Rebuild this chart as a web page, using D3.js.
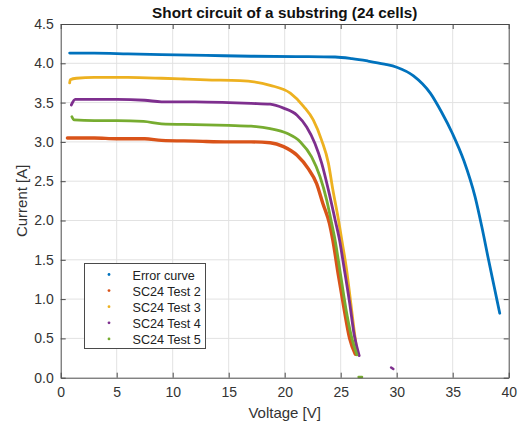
<!DOCTYPE html>
<html>
<head>
<meta charset="utf-8">
<script src="https://cdn.jsdelivr.net/npm/d3@7"></script>
<style>
  body { margin: 0; background: #fff; }
  text { font-family: "Liberation Sans", Arial, sans-serif; }
</style>
</head>
<body>
<svg id="chart" width="518" height="425"></svg>
<script>
// values
let seriesNames = ["Error curve", "SC24 Test 2", "SC24 Test 3", "SC24 Test 4", "SC24 Test 5"];

let errV = [0.8, 3, 6, 9, 13, 17, 21, 24.5, 26, 27.4, 28.9, 30, 31.5, 33, 34, 35, 36, 37, 37.6, 38.2, 38.7, 39.2];
let errI = [4.13, 4.13, 4.12, 4.11, 4.10, 4.09, 4.085, 4.08, 4.06, 4.03, 3.99, 3.95, 3.84, 3.62, 3.38, 3.10, 2.76, 2.30, 1.92, 1.50, 1.16, 0.82];

let test2V = [0.6, 1, 3, 5, 7.5, 9, 12, 15, 17, 18.7, 19.9, 21.1, 22.1, 22.85, 23.4, 24.0, 24.3, 24.8, 25.3, 25.8, 26.3];
let test2I = [3.05, 3.05, 3.05, 3.04, 3.04, 3.02, 3.01, 3.0, 3.0, 2.99, 2.94, 2.83, 2.66, 2.47, 2.22, 1.96, 1.75, 1.3, 0.88, 0.5, 0.3];

let test3V = [0.8, 0.85, 1.4, 3, 6, 9, 11, 13, 16, 18.7, 20.5, 21.7, 22.55, 23.3, 23.9, 24.3, 24.8, 25.1, 25.5, 25.9, 26.2, 26.5];
let test3I = [3.75, 3.79, 3.81, 3.82, 3.82, 3.81, 3.80, 3.79, 3.78, 3.72, 3.62, 3.45, 3.28, 3.02, 2.73, 2.39, 2.01, 1.75, 1.4, 0.95, 0.6, 0.3];

let test4V = [0.95, 1.3, 3, 5, 7.5, 9, 12, 15, 17, 18.7, 19.9, 21.1, 21.96, 22.7, 23.3, 23.9, 24.5, 24.9, 25.3, 25.8, 26.2, 26.65];
let test4I = [3.47, 3.54, 3.54, 3.54, 3.53, 3.51, 3.51, 3.50, 3.49, 3.48, 3.43, 3.34, 3.19, 2.98, 2.73, 2.39, 2.01, 1.75, 1.4, 0.95, 0.55, 0.28];
let test4StrayV = [29.5, 29.7];
let test4StrayI = [0.13, 0.11];

let test5V = [1.0, 1.2, 3, 5, 7.4, 9, 12, 15, 17, 18.7, 20.2, 21.4, 22.4, 23.15, 23.75, 24.2, 24.5, 25.0, 25.5, 26.0, 26.45];
let test5I = [3.32, 3.28, 3.27, 3.27, 3.26, 3.23, 3.22, 3.21, 3.2, 3.17, 3.11, 3.0, 2.81, 2.56, 2.26, 1.96, 1.75, 1.3, 0.85, 0.5, 0.29];
let test5StrayV = [26.6, 26.9];
let test5StrayI = [0.01, 0.01];

let xTicks = [0, 5, 10, 15, 20, 25, 30, 35, 40];
let yTicks = [0, 0.5, 1, 1.5, 2, 2.5, 3, 3.5, 4, 4.5];

let colors = ["#0072BD", "#D95319", "#EDB120", "#7E2F8E", "#77AC30"];
let axisColor = "#4a4a4a";
let textColor = "#333333";

function zip(vs, is) { return vs.map((v, i) => [v, is[i]]); }

let curves = [
  { main: zip(errV, errI), stray: [] },
  { main: zip(test2V, test2I), stray: [] },
  { main: zip(test3V, test3I), stray: [] },
  { main: zip(test4V, test4I), stray: zip(test4StrayV, test4StrayI) },
  { main: zip(test5V, test5I), stray: zip(test5StrayV, test5StrayI) }
];

let svg = d3.select("#chart");
let plotLeft = 60.7, plotRight = 508.7, plotTop = 24, plotBottom = 377.7;

let x = d3.scaleLinear().domain([0, 40]).range([plotLeft, plotRight]);
let y = d3.scaleLinear().domain([0, 4.5]).range([plotBottom, plotTop]);

// grid
svg.append("g").selectAll("line").data(xTicks.slice(1, -1)).enter().append("line")
  .attr("x1", d => x(d)).attr("x2", d => x(d))
  .attr("y1", plotTop).attr("y2", plotBottom)
  .style("stroke", "#e2e2e2").style("stroke-width", 1);
svg.append("g").selectAll("line").data(yTicks.slice(1, -1)).enter().append("line")
  .attr("x1", plotLeft).attr("x2", plotRight)
  .attr("y1", d => y(d)).attr("y2", d => y(d))
  .style("stroke", "#e2e2e2").style("stroke-width", 1);

// curves
let line = d3.line()
  .x(d => x(d[0]))
  .y(d => y(d[1]))
  .curve(d3.curveMonotoneX);

curves.forEach(function(c, i) {
  svg.append("path")
    .datum(c.main)
    .attr("d", line)
    .style("fill", "none")
    .style("stroke", colors[i])
    .style("stroke-width", i == 1 ? 3.4 : 2.8)
    .style("stroke-linecap", "round")
    .style("stroke-linejoin", "round");
  if (c.stray.length) {
    svg.append("path")
      .datum(c.stray)
      .attr("d", d3.line().x(d => x(d[0])).y(d => y(d[1])))
      .style("fill", "none")
      .style("stroke", colors[i])
      .style("stroke-width", 2.5)
      .style("stroke-linecap", "round");
  }
});

// axes box with inward ticks (all four sides)
let xAxisB = d3.axisBottom(x).tickValues(xTicks).tickSizeInner(-5).tickSizeOuter(0).tickPadding(9);
let xAxisT = d3.axisTop(x).tickValues(xTicks).tickSizeInner(-5).tickSizeOuter(0).tickFormat("");
let yAxisL = d3.axisLeft(y).tickValues(yTicks).tickSizeInner(-5).tickSizeOuter(0).tickPadding(7);
let yAxisR = d3.axisRight(y).tickValues(yTicks).tickSizeInner(-5).tickSizeOuter(0).tickFormat("");

function styleAxis(g) {
  g.select(".domain").style("stroke", axisColor);
  g.selectAll(".tick line").style("stroke", axisColor);
  g.selectAll(".tick text")
    .style("fill", textColor)
    .style("font-family", "Liberation Sans, Arial, sans-serif")
    .style("font-size", "14px");
}

svg.append("g").attr("transform", "translate(0," + plotBottom + ")").call(xAxisB).call(styleAxis);
svg.append("g").attr("transform", "translate(0," + plotTop + ")").call(xAxisT).call(styleAxis);
svg.append("g").attr("transform", "translate(" + plotLeft + ",0)").call(yAxisL).call(styleAxis);
svg.append("g").attr("transform", "translate(" + plotRight + ",0)").call(yAxisR).call(styleAxis);

// title and axis labels
svg.append("text")
  .attr("x", (plotLeft + plotRight) / 2)
  .attr("y", 18)
  .text("Short circuit of a substring (24 cells)")
  .style("text-anchor", "middle")
  .style("font-weight", "bold")
  .style("font-size", "15.3px")
  .style("fill", "#111");

svg.append("text")
  .attr("x", (plotLeft + plotRight) / 2)
  .attr("y", 418)
  .text("Voltage [V]")
  .style("text-anchor", "middle")
  .style("font-size", "15px")
  .style("fill", textColor);

svg.append("text")
  .attr("transform", "translate(27," + ((plotTop + plotBottom) / 2) + ") rotate(-90)")
  .text("Current [A]")
  .style("text-anchor", "middle")
  .style("font-size", "15px")
  .style("fill", textColor);

// legend
let legend = svg.append("g");
legend.append("rect")
  .attr("x", 84.5).attr("y", 263.5)
  .attr("width", 121).attr("height", 85)
  .style("fill", "#fff")
  .style("stroke", axisColor)
  .style("stroke-width", 1);

seriesNames.forEach(function(name, i) {
  let ly = 275.5 + i * 16.1;
  legend.append("circle")
    .attr("cx", 109).attr("cy", ly - 1)
    .attr("r", 1.4)
    .style("fill", colors[i]);
  legend.append("text")
    .attr("x", 132.5).attr("y", ly + 4.5)
    .text(name)
    .style("font-size", "12.6px")
    .style("fill", "#222");
});
</script>
</body>
</html>
